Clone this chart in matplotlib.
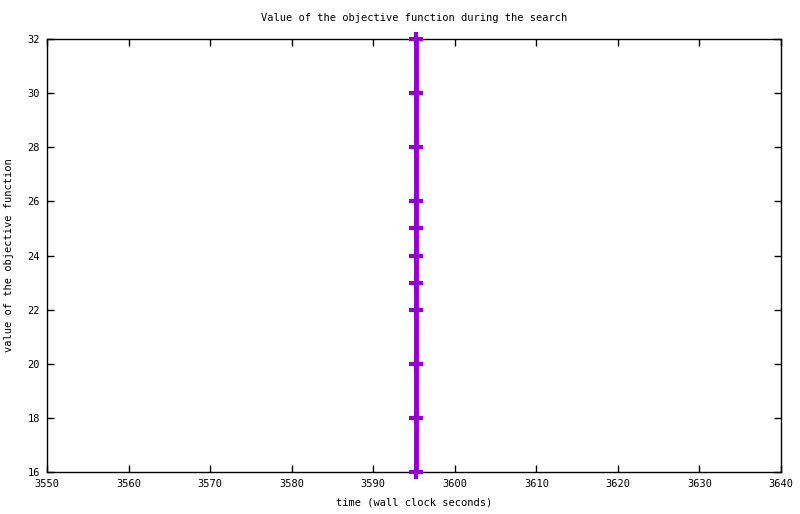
import matplotlib
matplotlib.use('Agg')
import matplotlib.pyplot as plt

# objective values found during the search (all at one wall clock time)
times = [3595.3] * 11
values = [32, 30, 28, 26, 25, 24, 23, 22, 20, 18, 16]

x_ticks = list(range(3550, 3641, 10))
y_ticks = list(range(16, 33, 2))

plt.rcParams['font.family'] = ['DejaVu Sans Mono']
plt.rcParams['font.size'] = 7.5

fig = plt.figure(figsize=(8, 5.14), dpi=100)
ax = fig.add_axes([0.05875, 0.0817, 0.9175, 0.8424])

ax.plot(times, values, color='#9400d3', lw=3.5, marker='+', markersize=10,
        markeredgewidth=3, solid_capstyle='butt', clip_on=False, zorder=3)

ax.set_xlim(3550, 3640)
ax.set_ylim(16, 32)
ax.set_xticks(x_ticks)
ax.set_yticks(y_ticks)
ax.tick_params(direction='in', length=5, width=1, top=True, right=True,
               labeltop=False, labelright=False, pad=5)
for sp in ax.spines.values():
    sp.set_linewidth(1)

ax.set_title('Value of the objective function during the search', fontsize=7.5, pad=13)
ax.set_xlabel('time (wall clock seconds)', fontsize=7.5, labelpad=6)
ax.set_ylabel('value of the objective function', fontsize=7.5, labelpad=10)

fig.savefig('out.png', dpi=100)
